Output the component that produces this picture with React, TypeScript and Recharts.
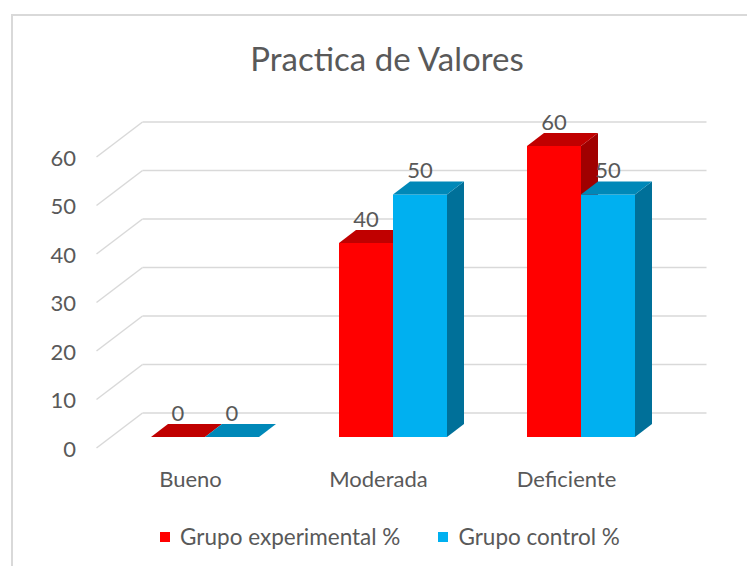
import React from 'react';
import { BarChart, Bar, XAxis, YAxis, CartesianGrid, LabelList } from 'recharts';

const categories = ['Bueno', 'Moderada', 'Deficiente'];
const experimental = [0, 40, 60];
const control = [0, 50, 50];
const yTicks = [0, 10, 20, 30, 40, 50, 60];
const seriesNames = ['Grupo experimental %', 'Grupo control %'];
const title = 'Practica de Valores';

const data = categories.map((c, i) => ({ name: c, exp: experimental[i], ctl: control[i] }));

const FONT = 'Lato, "Open Sans", sans-serif';
const TEXT = '#595959';
const GRID = '#D9D9D9';

// 3D geometry (oblique projection)
const DEPTH_X = 17;
const DEPTH_Y = 13;
const WALL_X = 31.5;
const WALL_Y = 24;
const FLOOR_X = 14.5;
const FLOOR_Y = 11;

const PLOT_LEFT = 111;
const PLOT_BOTTOM = 437;

const COLORS = {
  exp: { front: '#FF0000', top: '#C00000', side: '#A00000' },
  ctl: { front: '#00B0F0', top: '#0088B8', side: '#007099' },
};

function make3DShape(c: { front: string; top: string; side: string }) {
  return (props: any) => {
    const x = Number(props.x);
    const y = Number(props.y);
    const w = Number(props.width);
    const h = Math.max(0, Number(props.height) || 0);
    const topPts = `${x},${y} ${x + DEPTH_X},${y - DEPTH_Y} ${x + w + DEPTH_X},${y - DEPTH_Y} ${x + w},${y}`;
    const sidePts = `${x + w},${y} ${x + w + DEPTH_X},${y - DEPTH_Y} ${x + w + DEPTH_X},${y + h - DEPTH_Y} ${x + w},${y + h}`;
    return (
      <g>
        {h > 0 && <rect x={x} y={y} width={w} height={h} fill={c.front} />}
        {h > 0 && <polygon points={sidePts} fill={c.side} />}
        <polygon points={topPts} fill={c.top} />
      </g>
    );
  };
}

const GridLine = (props: any) => {
  const { x1, x2, y1 } = props;
  const y = Number(y1);
  const bx = Number(x1) + WALL_X;
  const by = y - WALL_Y;
  return (
    <g>
      <line x1={Number(x1) - FLOOR_X} y1={y + FLOOR_Y} x2={bx} y2={by} stroke={GRID} strokeWidth={1.5} />
      <line x1={bx} y1={by} x2={Number(x2) + WALL_X} y2={by} stroke={GRID} strokeWidth={1.5} />
    </g>
  );
};

const YTick = (props: any) => {
  const { y, payload } = props;
  return (
    <text
      x={PLOT_LEFT - 35}
      y={Number(y) + FLOOR_Y}
      textAnchor="end"
      dominantBaseline="central"
      fill={TEXT}
      fontFamily={FONT}
      fontSize={22}
    >
      {payload.value}
    </text>
  );
};

const XTick = (props: any) => {
  const { x, payload } = props;
  return (
    <text
      x={Number(x) - FLOOR_X}
      y={PLOT_BOTTOM + 41}
      textAnchor="middle"
      dominantBaseline="central"
      fill={TEXT}
      fontFamily={FONT}
      fontSize={22}
    >
      {payload.value}
    </text>
  );
};

const BarLabel = (props: any) => {
  const { x, y, width, value } = props;
  return (
    <text
      x={Number(x) + Number(width) / 2}
      y={Number(y) - 25}
      textAnchor="middle"
      dominantBaseline="central"
      fill={TEXT}
      fontFamily={FONT}
      fontSize={22}
    >
      {value}
    </text>
  );
};

export default function App() {
  return (
    <div
      style={{
        position: 'absolute',
        left: 0,
        top: 0,
        width: 747,
        height: 566,
        overflow: 'hidden',
        background: '#fff',
      }}
    >
      <div
        style={{
          position: 'absolute',
          left: 11,
          top: 14,
          width: 800,
          height: 700,
          border: `2px solid ${GRID}`,
          boxSizing: 'border-box',
        }}
      />
      <div
        style={{
          position: 'absolute',
          left: 0,
          top: 42,
          width: 774,
          textAlign: 'center',
          fontFamily: FONT,
          fontSize: 33,
          lineHeight: '33px',
          color: TEXT,
        }}
      >
        {title}
      </div>
      <div style={{ position: 'absolute', left: 0, top: 0 }}>
        <BarChart
          width={747}
          height={566}
          data={data}
          margin={{ top: 146, right: 72, bottom: 99, left: 71 }}
          barGap={0}
          barSize={54}
        >
          <CartesianGrid vertical={false} horizontal={(p: any) => <GridLine key={p.key ?? p.index} {...p} />} />
          <XAxis
            dataKey="name"
            height={30}
            axisLine={false}
            tickLine={false}
            tick={<XTick />}
            interval={0}
          />
          <YAxis
            domain={[0, 60]}
            ticks={yTicks}
            width={40}
            axisLine={false}
            tickLine={false}
            tick={<YTick />}
            interval={0}
          />
          <Bar dataKey="exp" name={seriesNames[0]} fill={COLORS.exp.front} shape={make3DShape(COLORS.exp)} isAnimationActive={false}>
            <LabelList dataKey="exp" content={<BarLabel />} />
          </Bar>
          <Bar dataKey="ctl" name={seriesNames[1]} fill={COLORS.ctl.front} shape={make3DShape(COLORS.ctl)} isAnimationActive={false}>
            <LabelList dataKey="ctl" content={<BarLabel />} />
          </Bar>
        </BarChart>
      </div>
      <div
        style={{
          position: 'absolute',
          left: 0,
          top: 526,
          width: 780,
          display: 'flex',
          justifyContent: 'center',
          alignItems: 'center',
          fontFamily: FONT,
          fontSize: 22.5,
          color: TEXT,
          lineHeight: '22px',
        }}
      >
        {seriesNames.map((n, i) => (
          <div key={n} style={{ display: 'flex', alignItems: 'center', marginLeft: i === 0 ? 0 : 38 }}>
            <div
              style={{
                width: 10,
                height: 10,
                background: i === 0 ? COLORS.exp.front : COLORS.ctl.front,
                marginRight: 10,
              }}
            />
            <span>{n}</span>
          </div>
        ))}
      </div>
    </div>
  );
}
